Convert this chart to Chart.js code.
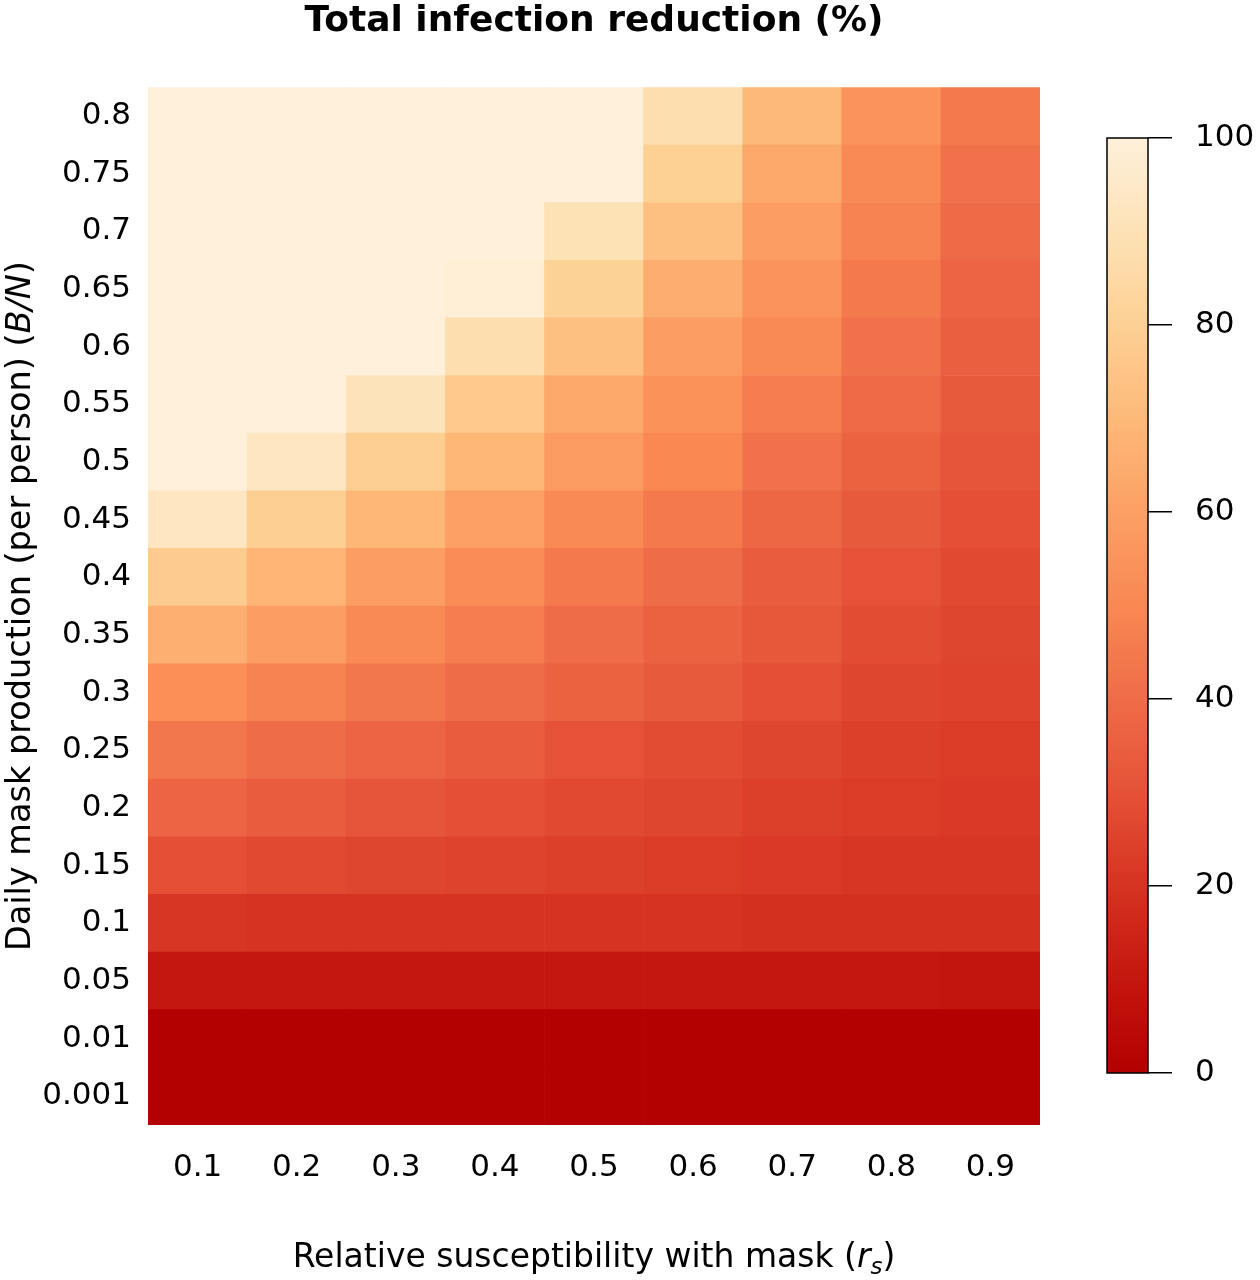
<!DOCTYPE html>
<html>
<head>
<meta charset="utf-8">
<script src="https://cdn.jsdelivr.net/npm/chart.js@4.4.1/dist/chart.umd.min.js"></script>
<style>
html, body { margin: 0; padding: 0; background: #fff; }
#wrap { position: relative; width: 1260px; height: 1280px; background: #fff; }
#main { position: absolute; left: 0; top: 0; }
#bar { position: absolute; left: 1090px; top: 0; }
</style>
</head>
<body>
<div id="wrap">
  <canvas id="main" width="1090" height="1280"></canvas>
  <canvas id="bar" width="170" height="1280"></canvas>
</div>
<script>
// ---------------- DATA ----------------
const colLabels = ['0.1', '0.2', '0.3', '0.4', '0.5', '0.6', '0.7', '0.8', '0.9'];
// rows from bottom (index 0) to top
const rowLabels = ['0.001', '0.01', '0.05', '0.1', '0.15', '0.2', '0.25', '0.3', '0.35',
                   '0.4', '0.45', '0.5', '0.55', '0.6', '0.65', '0.7', '0.75', '0.8'];

// Total infection reduction (%) per row, columns r_s = 0.1 ... 0.9
const row_0_8   = [100, 100, 100, 100, 100, 88, 70, 55, 45];
const row_0_75  = [100, 100, 100, 100, 100, 80, 63, 51, 42];
const row_0_7   = [100, 100, 100, 100,  90, 73, 59, 48, 39];
const row_0_65  = [100, 100, 100,  99,  81, 65, 55, 45, 37];
const row_0_6   = [100, 100, 100,  88,  73, 59, 51, 42, 35];
const row_0_55  = [100, 100,  91,  77,  63, 54, 46, 39, 33];
const row_0_5   = [100,  93,  79,  69,  58, 50, 42, 36, 31];
const row_0_45  = [ 93,  79,  69,  60,  51, 45, 38, 33, 29];
const row_0_4   = [ 78,  68,  59,  52,  45, 40, 34, 30, 27];
const row_0_35  = [ 66,  59,  51,  46,  40, 36, 32, 28, 26];
const row_0_3   = [ 53,  48,  44,  40,  36, 33, 29, 26, 25];
const row_0_25  = [ 44,  40,  37,  34,  30, 28, 26, 24, 23];
const row_0_2   = [ 37,  34,  31,  29,  27, 26, 24, 23, 22];
const row_0_15  = [ 29,  27,  26,  25,  24, 23, 22, 21, 21];
const row_0_1   = [ 21,  20,  20,  20,  20, 20, 19, 19, 19];
const row_0_05  = [ 10,  10,  10,  10,  10, 10, 10, 10,  9];
const row_0_01  = [  0,   0,   0,   0,   0,  0,  0,  0,  0];
const row_0_001 = [  0,   0,   0,   0,   0,  0,  0,  0,  0];

const reductionRows = [row_0_001, row_0_01, row_0_05, row_0_1, row_0_15, row_0_2, row_0_25,
  row_0_3, row_0_35, row_0_4, row_0_45, row_0_5, row_0_55, row_0_6, row_0_65, row_0_7,
  row_0_75, row_0_8];

const colorbarTicks = [0, 20, 40, 60, 80, 100];

// ---------------- STYLE ----------------
const paletteStops = [
  [0, '#B30000'], [10, '#C4170F'], [20, '#D63322'], [30, '#E55237'], [40, '#EF6C48'],
  [50, '#F98853'], [60, '#FCA065'], [70, '#FDB979'], [80, '#FDD094'], [90, '#FDE2B6'],
  [100, '#FEF0DA']
];
function hexToRgb(h) {
  const n = parseInt(h.slice(1), 16);
  return [(n >> 16) & 255, (n >> 8) & 255, n & 255];
}
function colorFor(v) {
  for (let k = 0; k < paletteStops.length - 1; k++) {
    const [v0, c0] = paletteStops[k], [v1, c1] = paletteStops[k + 1];
    if (v <= v1 || k === paletteStops.length - 2) {
      const t = Math.max(0, Math.min(1, (v - v0) / (v1 - v0)));
      const a = hexToRgb(c0), b = hexToRgb(c1);
      const c = a.map((x, i) => Math.round(x + (b[i] - x) * t));
      return `rgb(${c[0]},${c[1]},${c[2]})`;
    }
  }
}

const FONT = 'DejaVu Sans';
Chart.defaults.font.family = FONT;
Chart.defaults.color = '#000';

const whiteBg = {
  id: 'whiteBg',
  beforeDraw(chart) {
    const c = chart.ctx;
    c.save(); c.fillStyle = '#fff'; c.fillRect(0, 0, chart.width, chart.height); c.restore();
  }
};

function drawRich(ctx, parts, cx, y) {
  let total = 0;
  parts.forEach(p => { ctx.font = p.font; p.w = ctx.measureText(p.text).width; total += p.w; });
  let x = cx - total / 2;
  parts.forEach(p => { ctx.font = p.font; ctx.fillText(p.text, x, y + (p.dy || 0)); x += p.w; });
}

const axisTitles = {
  id: 'axisTitles',
  afterDraw(chart) {
    const ctx = chart.ctx, ca = chart.chartArea;
    ctx.save();
    ctx.fillStyle = '#000';
    ctx.textAlign = 'left';
    ctx.textBaseline = 'alphabetic';
    // x axis title
    drawRich(ctx, [
      { text: 'Relative susceptibility with mask (', font: `33px "${FONT}"` },
      { text: 'r', font: `italic 33px "${FONT}"` },
      { text: 's', font: `italic 23px "${FONT}"`, dy: 7 },
      { text: ')', font: `33px "${FONT}"` }
    ], (ca.left + ca.right) / 2, ca.bottom + 142);
    // y axis title
    ctx.translate(30, (ca.top + ca.bottom) / 2);
    ctx.rotate(-Math.PI / 2);
    drawRich(ctx, [
      { text: 'Daily mask production (per person) (', font: `33.5px "${FONT}"` },
      { text: 'B/N', font: `italic 33.5px "${FONT}"` },
      { text: ')', font: `33.5px "${FONT}"` }
    ], 0, 0);
    ctx.restore();
  }
};

// ---------------- MAIN HEATMAP ----------------
const datasets = reductionRows.map((vals, i) => ({
  label: rowLabels[i],
  data: colLabels.map(() => [i - 0.5, i + 0.5]),
  backgroundColor: vals.map(colorFor),
  borderWidth: 0,
  grouped: false,
  barPercentage: 1,
  categoryPercentage: 1
}));

new Chart(document.getElementById('main'), {
  type: 'bar',
  data: { labels: colLabels, datasets },
  plugins: [whiteBg, axisTitles],
  options: {
    responsive: false,
    animation: false,
    layout: { padding: { left: 0, right: 50, top: 0, bottom: 0 } },
    plugins: {
      legend: { display: false },
      tooltip: { enabled: false },
      title: {
        display: true,
        text: 'Total infection reduction (%)',
        fullSize: false,
        color: '#000',
        font: { family: FONT, size: 36, weight: 'bold' },
        padding: { top: 0, bottom: 44 }
      }
    },
    scales: {
      x: {
        type: 'category',
        grid: { display: false, drawTicks: false },
        border: { display: false },
        ticks: { font: { size: 31 }, color: '#000', padding: 24, maxRotation: 0, autoSkip: false },
        afterFit(s) { s.height = 155; }
      },
      y: {
        type: 'linear',
        min: -0.5,
        max: rowLabels.length - 0.5,
        grid: { display: false, drawTicks: false },
        border: { display: false },
        afterBuildTicks(s) { s.ticks = rowLabels.map((_, i) => ({ value: i })); },
        ticks: {
          font: { size: 31 }, color: '#000', padding: 17, autoSkip: false,
          callback: (v) => rowLabels[Math.round(v)]
        },
        afterFit(s) { s.width = 148; }
      }
    }
  }
});

// ---------------- COLOR BAR ----------------
const colorbarFill = {
  id: 'colorbarFill',
  beforeDatasetsDraw(chart) {
    const ctx = chart.ctx, ca = chart.chartArea, y = chart.scales.y;
    const g = ctx.createLinearGradient(0, y.getPixelForValue(0), 0, y.getPixelForValue(100));
    paletteStops.forEach(([v, c]) => g.addColorStop(v / 100, c));
    ctx.save();
    ctx.fillStyle = g;
    ctx.fillRect(ca.left, ca.top, ca.right - ca.left, ca.bottom - ca.top);
    ctx.strokeStyle = '#000';
    ctx.lineWidth = 1.5;
    ctx.strokeRect(ca.left, ca.top, ca.right - ca.left, ca.bottom - ca.top);
    ctx.restore();
  }
};

new Chart(document.getElementById('bar'), {
  type: 'bar',
  data: { labels: [''], datasets: [] },
  plugins: [whiteBg, colorbarFill],
  options: {
    responsive: false,
    animation: false,
    layout: { padding: { left: 17, right: 0, top: 138, bottom: 207 } },
    plugins: { legend: { display: false }, tooltip: { enabled: false } },
    scales: {
      x: { display: false },
      y: {
        position: 'right',
        min: 0,
        max: 100,
        afterBuildTicks(s) { s.ticks = colorbarTicks.map(v => ({ value: v })); },
        grid: { drawOnChartArea: false, drawTicks: true, tickLength: 24, color: '#000', lineWidth: 1.5 },
        border: { display: false },
        ticks: { font: { size: 31 }, color: '#000', padding: 23, autoSkip: false },
        afterFit(s) { s.width = 112; }
      }
    }
  }
});
</script>
</body>
</html>
